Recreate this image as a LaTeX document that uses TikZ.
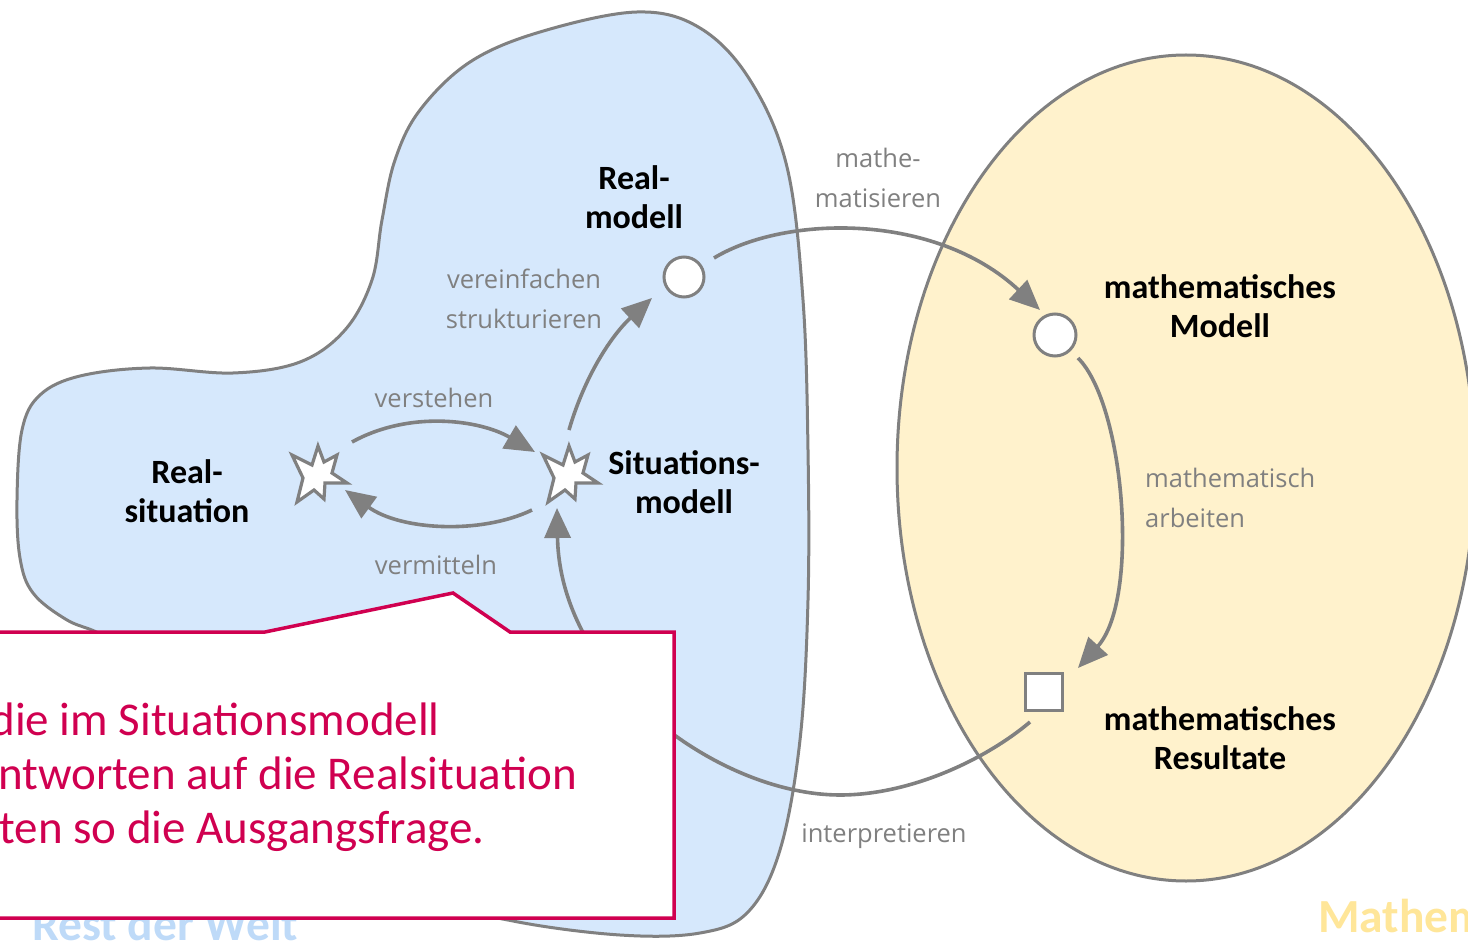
\documentclass[tikz,border=0pt]{standalone}
\usepackage{fontspec}
\setmainfont{Carlito}
\newfontfamily\labelfont{Open Sans}
\usetikzlibrary{arrows.meta,calc}
\definecolor{linegray}{RGB}{128,128,128}
\definecolor{worldblue}{RGB}{214,232,252}
\definecolor{mathyellow}{RGB}{255,242,204}
\definecolor{callred}{RGB}{208,0,80}
\definecolor{worldtitle}{RGB}{190,218,248}
\definecolor{mathtitle}{RGB}{255,230,153}

\begin{document}
\begin{tikzpicture}[x=1pt,y=1pt,
  region/.style={draw=linegray, line width=3pt},
  dot/.style={circle, draw=linegray, line width=3pt, fill=white, minimum size=40pt, inner sep=0pt},
  resultbox/.style={rectangle, draw=linegray, line width=3pt, fill=white, minimum size=37pt, inner sep=0pt},
  burst/.pic={\draw[draw=linegray, line width=3.2pt, fill=white, line join=miter]
      (0,28) -- (6,12) -- (19,19) -- (14,1) -- (29,-9) -- (7,-9) -- (6,-25)
      -- (-4,-16) -- (-21,-28) -- (-15,-4) -- (-26,19) -- (-6,9) -- cycle;},
  conn/.style={draw=linegray, line width=3.6pt, -{Triangle[length=30pt,width=26pt]}},
  title/.style={font=\bfseries\fontsize{34}{39.5}\selectfont, align=center, inner sep=0pt},
  lbl/.style={font=\labelfont\fontsize{25.5}{40}\selectfont, text=linegray, inner sep=0pt},
  calltext/.style={font=\fontsize{47}{54}\selectfont, text=callred, inner sep=0pt, anchor=base east},
  areatitle/.style={font=\bfseries\fontsize{47.5}{54}\selectfont, inner sep=0pt, anchor=base west},
]
\path[use as bounding box] (0,0) rectangle (1468,-941);
\clip (0,0) rectangle (1468,-941);
\fill[white] (0,0) rectangle (1468,-941);

% real world region
\draw[region, fill=worldblue] plot[smooth cycle, tension=0.6] coordinates {
  (637,-12) (700,-28) (750,-80) (787,-167) (803,-300) (808,-450) (808,-600)
  (800,-740) (780,-850) (748,-912) (700,-933) (620,-935) (513,-921) (430,-897)
  (300,-820) (180,-700) (110,-640) (67,-620) (33,-593) (20,-558) (17,-500)
  (22,-430) (40,-395) (80,-376) (150,-368) (233,-373) (300,-362) (345,-330)
  (372,-280) (382,-220) (395,-160) (420,-110) (470,-62) (540,-32)};

% mathematics region
\draw[region, fill=mathyellow] (1186,-468) ellipse [x radius=289, y radius=413];

% area titles
\node[areatitle, text=worldtitle] (rw) at (32,-940) {Rest der Welt};
\node[areatitle, text=mathtitle] (mt) at (1318,-932) {Mathem};

% stations of the cycle
\coordinate (rs) at (318,-474);
\coordinate (sm) at (569,-474);
\pic at (rs) {burst};
\pic at (sm) {burst};
\node[dot] (rm) at (684,-277) {};
\node[dot, minimum size=42pt] (mm) at (1055,-335) {};
\node[resultbox] (sq) at (1044,-692) {};

% station titles
\node[title] (t-rs) at (187,-491) {Real-\\situation};
\node[title] (t-sm) at (684,-482) {Situations-\\modell};
\node[title] (t-rm) at (634,-197) {Real-\\modell};
\node[title] (t-mm) at (1220,-306) {mathematisches\\Modell};
\node[title] (t-mr) at (1220,-738) {mathematisches\\Resultate};

% transitions
\draw[conn] ($(rm)+(30,19)$) .. controls (785,-215) and (935,-212) .. ($(mm)+(-15,25)$);
\draw[conn] ($(mm)+(23,-23)$) .. controls (1125,-405) and (1140,-600) .. ($(sq)+(34,24)$);
\draw[conn] ($(sq)+(-14,-30)$) .. controls (985,-760) and (910,-795) .. (840,-795)
  .. controls (720,-795) and (560,-680) .. ($(sm)+(-12,-34)$);
\draw[conn] ($(sm)+(0,44)$) .. controls (585,-375) and (612,-335) .. ($(rm)+(-32,-21)$);
\draw[conn] ($(rs)+(34,32)$) .. controls (410,-410) and (480,-420) .. ($(sm)+(-34,22)$);
\draw[conn] ($(sm)+(-37,-36)$) .. controls (480,-535) and (400,-530) .. ($(rs)+(27,-16)$);

% transition labels
\node[lbl, align=center] (l-mat) at (878,-178) {mathe-\\matisieren};
\node[lbl, align=center] (l-ver) at (524,-299) {vereinfachen\\strukturieren};
\node[lbl] (l-vst) at (434,-398) {verstehen};
\node[lbl] (l-vmi) at (436,-565) {vermitteln};
\node[lbl, align=left, anchor=west] (l-arb) at (1145,-498) {mathematisch\\arbeiten};
\node[lbl] (l-int) at (884,-836) {interpretieren};

% callout
\draw[draw=callred, line width=3.5pt, fill=white, line join=miter]
  (-10,-632) -- (265,-632) -- (453,-593) -- (510,-632) -- (674,-632)
  -- (674,-918) -- (-10,-918) -- cycle;
\node[calltext] (c1) at (440,-735) {die im Situationsmodell};
\node[calltext] (c2) at (577,-789) {ntworten auf die Realsituation};
\node[calltext] (c3) at (485,-843) {ten so die Ausgangsfrage.};
\end{tikzpicture}
\end{document}
